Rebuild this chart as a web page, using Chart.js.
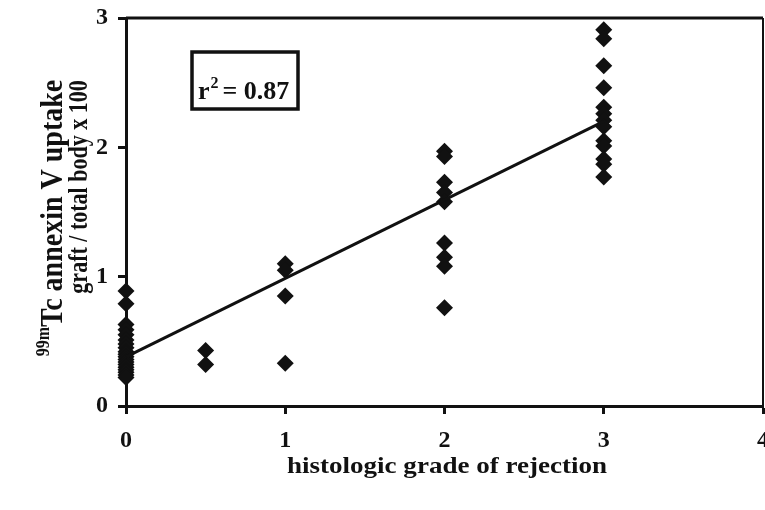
<!DOCTYPE html>
<html>
<head>
<meta charset="utf-8">
<script src="https://cdn.jsdelivr.net/npm/chart.js@4"></script>
<style>
html,body{margin:0;padding:0;background:#fff;}
canvas{display:block;}
</style>
</head>
<body>
<canvas id="c" width="765" height="510"></canvas>
<script>
// ---- data ----
const grades = [0, 0.5, 1, 2, 3];
const uptakeGrade0 = [0.89, 0.79, 0.63, 0.59, 0.55, 0.51, 0.48, 0.45, 0.42, 0.40, 0.38, 0.36, 0.34, 0.32, 0.30, 0.28, 0.26, 0.24, 0.22];
const uptakeGrade05 = [0.43, 0.32];
const uptakeGrade1 = [1.10, 1.05, 0.85, 0.33];
const uptakeGrade2 = [1.97, 1.93, 1.73, 1.65, 1.58, 1.26, 1.15, 1.08, 0.76];
const uptakeGrade3 = [2.91, 2.84, 2.63, 2.46, 2.31, 2.26, 2.21, 2.16, 2.05, 2.01, 1.91, 1.87, 1.77];
const fitX = [0, 3];
const fitY = [0.38, 2.2];
const xTicks = [0, 1, 2, 3, 4];
const yTicks = [0, 1, 2, 3];
const rSquaredText = "0.87";
const xTitle = "histologic grade of rejection";
const yTitleSup = "99m";
const yTitleLine1 = "Tc annexin V uptake";
const yTitleLine2 = "graft / total body x 100";

const uptakeByGrade = [uptakeGrade0, uptakeGrade05, uptakeGrade1, uptakeGrade2, uptakeGrade3];
const scatterPoints = [];
grades.forEach((g, i) => uptakeByGrade[i].forEach(v => scatterPoints.push({x: g, y: v})));
const fitPoints = fitX.map((x, i) => ({x: x, y: fitY[i]}));

const FONT = "'Liberation Serif', 'Times New Roman', serif";

const decor = {
  id: 'decor',
  afterDatasetsDraw(chart) {
    const ctx = chart.ctx;
    const a = chart.chartArea;
    ctx.save();
    ctx.strokeStyle = '#111';
    ctx.lineWidth = 3;
    ctx.beginPath();
    ctx.moveTo(a.left, a.top);
    ctx.lineTo(a.right, a.top);
    ctx.stroke();
    ctx.lineWidth = 2;
    ctx.beginPath();
    ctx.moveTo(a.right, a.top);
    ctx.lineTo(a.right, a.bottom);
    ctx.stroke();
    // r^2 box
    ctx.lineWidth = 3.5;
    ctx.strokeRect(192, 52, 106, 57);
    ctx.fillStyle = '#111';
    ctx.textBaseline = 'alphabetic';
    ctx.textAlign = 'left';
    ctx.font = "bold 26px " + FONT;
    let x = 198;
    const base = 99;
    ctx.fillText('r', x, base);
    x += ctx.measureText('r').width;
    ctx.font = "bold 16px " + FONT;
    ctx.fillText('2', x + 1, base - 11);
    x += ctx.measureText('2').width + 5;
    ctx.font = "bold 26px " + FONT;
    ctx.fillText('= ' + rSquaredText, x, base);
    ctx.restore();
  },
  afterDraw(chart) {
    const ctx = chart.ctx;
    ctx.save();
    ctx.fillStyle = '#111';
    // x title, stretched horizontally like the reference
    ctx.font = "bold 24px " + FONT;
    ctx.textAlign = 'center';
    ctx.textBaseline = 'middle';
    const wx = ctx.measureText(xTitle).width;
    ctx.translate(447, 467);
    ctx.scale(320 / wx, 1);
    ctx.fillText(xTitle, 0, 0);
    ctx.restore();
    // y title line 1 with superscript
    ctx.save();
    ctx.fillStyle = '#111';
    ctx.translate(62, 218);
    ctx.rotate(-Math.PI / 2);
    ctx.scale(1, 1.15);
    ctx.font = "bold 16px " + FONT;
    const wSup = ctx.measureText(yTitleSup).width;
    ctx.font = "bold 28px " + FONT;
    const wMain = ctx.measureText(yTitleLine1).width;
    const start = -(wSup + wMain) / 2;
    ctx.textAlign = 'left';
    ctx.textBaseline = 'alphabetic';
    ctx.font = "bold 16px " + FONT;
    ctx.fillText(yTitleSup, start, -11);
    ctx.font = "bold 28px " + FONT;
    ctx.fillText(yTitleLine1, start + wSup, 0);
    ctx.restore();
    // y title line 2
    ctx.save();
    ctx.fillStyle = '#111';
    ctx.translate(87, 187);
    ctx.rotate(-Math.PI / 2);
    ctx.scale(1, 1.22);
    ctx.font = "bold 22px " + FONT;
    ctx.textAlign = 'center';
    ctx.textBaseline = 'alphabetic';
    ctx.fillText(yTitleLine2, 0, 0);
    ctx.restore();
  }
};

new Chart(document.getElementById('c'), {
  type: 'scatter',
  data: {
    datasets: [
      {
        type: 'line',
        data: fitPoints,
        borderColor: '#111',
        borderWidth: 3,
        pointRadius: 0,
        fill: false,
        clip: false
      },
      {
        data: scatterPoints,
        backgroundColor: '#111',
        borderWidth: 0,
        pointStyle: 'rectRot',
        pointRadius: 8.5,
        clip: false
      }
    ]
  },
  options: {
    responsive: false,
    devicePixelRatio: 1,
    animation: false,
    layout: {autoPadding: false, padding: {top: 18, right: 2, left: 0, bottom: 0}},
    plugins: {legend: {display: false}, tooltip: {enabled: false}},
    scales: {
      x: {
        type: 'linear',
        min: 0, max: 4,
        afterBuildTicks(s) { s.ticks = xTicks.map(v => ({value: v})); },
        afterFit(s) { s.height = 104; s.paddingLeft = 0; s.paddingRight = 0; },
        grid: {drawOnChartArea: false, color: '#111', tickLength: 8, tickWidth: 3},
        border: {color: '#111', width: 3},
        ticks: {color: '#111', padding: 12, font: {family: FONT, size: 24, weight: 'bold'}}
      },
      y: {
        type: 'linear',
        min: 0, max: 3,
        afterBuildTicks(s) { s.ticks = yTicks.map(v => ({value: v})); },
        afterFit(s) { s.width = 126; s.paddingTop = 0; s.paddingBottom = 0; },
        grid: {drawOnChartArea: false, color: '#111', tickLength: 8, tickWidth: 3},
        border: {color: '#111', width: 3},
        ticks: {color: '#111', padding: 10, font: {family: FONT, size: 24, weight: 'bold'}}
      }
    }
  },
  plugins: [decor]
});
</script>
</body>
</html>
